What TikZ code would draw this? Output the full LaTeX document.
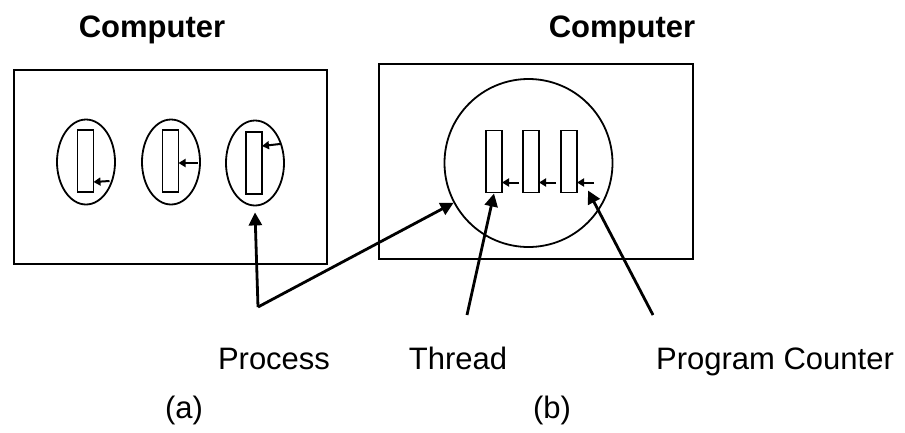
\documentclass[tikz,border=0pt]{standalone}
\usepackage{fontspec}
\setmainfont{Liberation Sans}
\usetikzlibrary{shapes.geometric,arrows.meta}

\begin{document}
\begin{tikzpicture}[x=1pt, y=-1pt,
    frame/.style={draw, line width=2pt, inner sep=0pt, outer sep=0pt},
    slot/.style={draw, line width=1.6pt, inner sep=0pt, outer sep=0pt, minimum width=16pt, minimum height=62pt},
    pointer/.style={line width=2.8pt, -{Triangle[length=13pt,width=13pt]}},
    tick/.style={line width=2pt, -{Triangle[length=7pt,width=8pt]}},
    lbl/.style={font=\fontsize{31}{36}\selectfont, anchor=base, inner sep=0pt}]
    \useasboundingbox (0,0) rectangle (905,432);

    % Computers
    \node[frame, minimum width=313pt, minimum height=194pt] (lbox) at (170.5,167) {};
    \node[frame, minimum width=314pt, minimum height=195pt] (rbox) at (536,161.5) {};
    \node[lbl, font=\fontsize{31}{36}\selectfont\bfseries] (ca) at (152,37) {Computer};
    \node[lbl, font=\fontsize{31}{36}\selectfont\bfseries] (cb) at (622,37) {Computer};

    % (a) three processes
    \foreach \i/\x/\y in {1/86/162, 2/171/162, 3/255/163} {
        \node[draw, ellipse, line width=1.8pt, inner sep=0pt, minimum width=58pt, minimum height=85pt] (e\i) at (\x,\y) {};
    }
    \foreach \i/\x/\y in {1/85.5/161, 2/170.5/161, 3/254/163} {
        \node[slot] (r\i) at (\x,\y) {};
    }
    \draw[tick] ([shift={(16pt,11pt)}]r1.south east) -- ([yshift=10pt]r1.south east);
    \draw[tick] ([shift={(19pt,-2pt)}]r2.east) -- ([yshift=-2pt]r2.east);
    \draw[tick] ([shift={(18pt,-12pt)}]r3.north east) -- ([yshift=-14pt]r3.north east);

    % (b) one process, three threads
    \node[draw, circle, line width=1.8pt, inner sep=0pt, minimum size=168pt] (proc) at (528.5,163) {};
    \foreach \i/\x in {1/494, 2/531, 3/569} {
        \node[slot] (t\i) at (\x,161.5) {};
        \draw[tick] ([shift={(17pt,10pt)}]t\i.south east) -- ([yshift=10pt]t\i.south east);
    }

    % Pointers
    \coordinate (pj) at (258,307);
    \coordinate (tj) at (467,315);
    \coordinate (cj) at (653,315);
    \draw[pointer] (pj) -- ([yshift=-6pt]e3.south);
    \draw[pointer] (pj) -- (proc.208);
    \draw[pointer] (tj) -- ([yshift=-1pt]t1.south);
    \draw[pointer] (cj) -- ([shift={(11pt,2pt)}]t3.south east);

    % Labels
    \node[lbl] (lp) at (274,369) {Process};
    \node[lbl] (lt) at (458,369) {Thread};
    \node[lbl] (lc) at (775,369) {Program Counter};
    \node[lbl] (la) at (184,418) {(a)};
    \node[lbl] (lb) at (552,418) {(b)};

\end{tikzpicture}
\end{document}
